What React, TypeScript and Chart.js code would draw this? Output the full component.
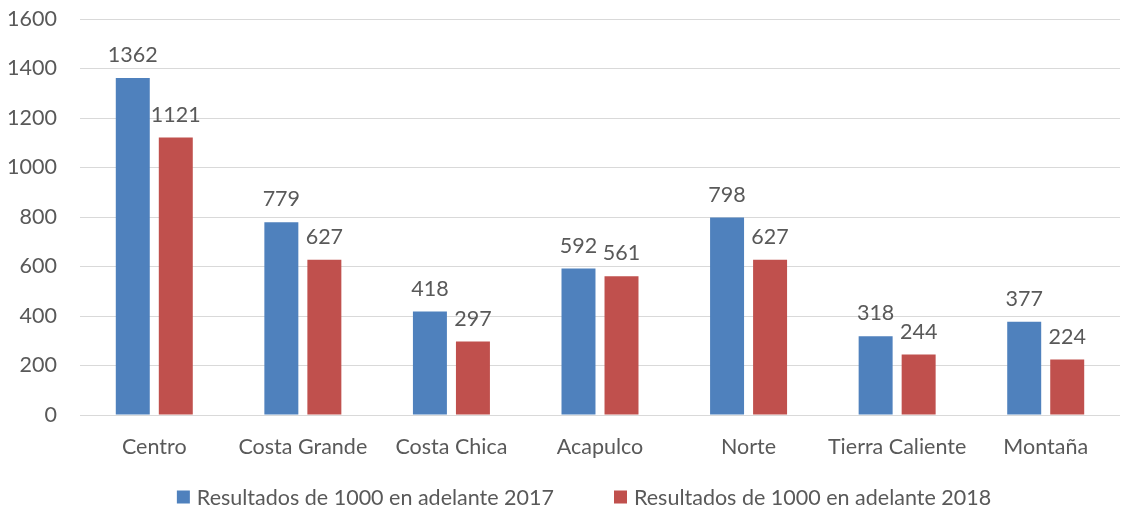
import React, { useEffect, useRef } from "react";
import { Chart, registerables } from "chart.js";

Chart.register(...registerables);

const categories = ["Centro", "Costa Grande", "Costa Chica", "Acapulco", "Norte", "Tierra Caliente", "Montaña"];
const series2017 = [1362, 779, 418, 592, 798, 318, 377];
const series2018 = [1121, 627, 297, 561, 627, 244, 224];
const seriesNames = ["Resultados de 1000 en adelante 2017", "Resultados de 1000 en adelante 2018"];
const yTicks = [0, 200, 400, 600, 800, 1000, 1200, 1400, 1600];

const FONT = "Lato";
const FS = 21.5;
const TEXT = "#595959";
const COLORS = ["#4F81BD", "#C0504D"];

const labelPlugin = {
  id: "valueLabels",
  afterDatasetsDraw(chart: any) {
    const ctx = chart.ctx;
    ctx.save();
    ctx.font = `${FS}px ${FONT}`;
    ctx.fillStyle = TEXT;
    ctx.textAlign = "center";
    ctx.textBaseline = "bottom";
    chart.data.datasets.forEach((ds: any, i: number) => {
      const meta = chart.getDatasetMeta(i);
      meta.data.forEach((bar: any, j: number) => {
        ctx.fillText(String(ds.data[j]), bar.x, bar.y - 12);
      });
    });
    ctx.restore();
  },
};

const legendPlugin = {
  id: "customLegend",
  afterDraw(chart: any) {
    const ctx = chart.ctx;
    ctx.save();
    ctx.font = `${FS}px ${FONT}`;
    ctx.textBaseline = "middle";
    ctx.textAlign = "left";
    const box = 13;
    const gapBoxText = 7;
    const gapItems = 60;
    const widths = seriesNames.map((n) => box + gapBoxText + ctx.measureText(n).width);
    const total = widths.reduce((a, b) => a + b, 0) + gapItems;
    let x = 584 - total / 2;
    const y = 497;
    seriesNames.forEach((n, i) => {
      ctx.fillStyle = COLORS[i];
      ctx.fillRect(x, y - box / 2, box, box);
      ctx.fillStyle = TEXT;
      ctx.fillText(n, x + box + gapBoxText, y + 1);
      x += widths[i] + gapItems;
    });
    ctx.restore();
  },
};

export default function App() {
  const ref = useRef<HTMLCanvasElement>(null);
  useEffect(() => {
    const chart = new Chart(ref.current!, {
      type: "bar",
      data: {
        labels: categories,
        datasets: [
          { label: seriesNames[0], data: series2017, backgroundColor: COLORS[0], categoryPercentage: 0.579, barPercentage: 0.79 },
          { label: seriesNames[1], data: series2018, backgroundColor: COLORS[1], categoryPercentage: 0.579, barPercentage: 0.79 },
        ],
      },
      options: {
        animation: false,
        responsive: false,
        maintainAspectRatio: false,
        layout: { padding: { top: 19, right: 4, bottom: 55, left: 0 } },
        plugins: { legend: { display: false }, tooltip: { enabled: false } },
        scales: {
          x: {
            grid: { display: false, drawTicks: false },
            border: { display: false },
            ticks: { color: TEXT, font: { family: FONT, size: FS }, padding: 19 },
            afterFit: (s: any) => { s.height = 43; },
          },
          y: {
            min: 0,
            max: 1600,
            afterBuildTicks: (s: any) => { s.ticks = yTicks.map((v) => ({ value: v })); },
            grid: { color: "#D9D9D9", drawTicks: false, lineWidth: 1 },
            border: { display: false },
            ticks: { color: TEXT, font: { family: FONT, size: FS }, padding: 23, callback: (v: any) => String(v) },
            afterFit: (s: any) => { s.width = 80; s.paddingTop = 0; s.paddingBottom = 0; },
          },
        },
      },
      plugins: [labelPlugin, legendPlugin],
    });
    return () => chart.destroy();
  }, []);
  return (
    <div style={{ position: "fixed", left: 0, top: 0, width: 1124, height: 513, background: "#fff" }}>
      <canvas ref={ref} width={1124} height={513} style={{ width: 1124, height: 513 }} />
    </div>
  );
}
